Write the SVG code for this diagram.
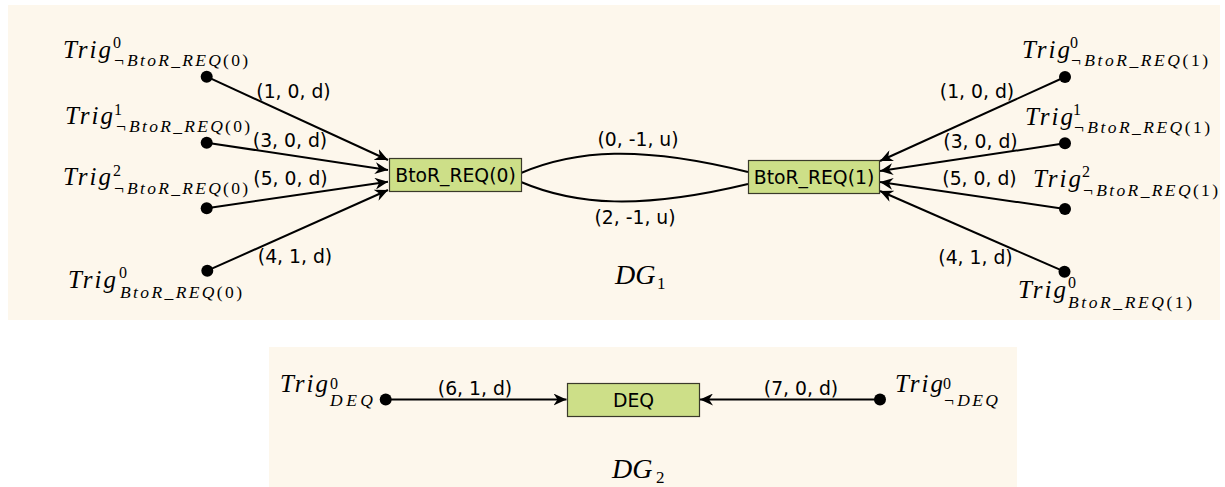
<svg xmlns="http://www.w3.org/2000/svg" width="1225" height="487" viewBox="0 0 1225 487">
<style>
.panel{fill:#fdf7ec}
.box{fill:#cddf88;stroke:#3a3a2a;stroke-width:1.2}
.nl{font-family:"DejaVu Sans",sans-serif;font-size:18.8px;fill:#000;text-anchor:middle}
.el{font-family:"DejaVu Sans",sans-serif;font-size:18.8px;fill:#000;text-anchor:middle}
.e{fill:none;stroke:#000;stroke-width:2}
.dot{fill:#000}
.m{font-family:"Liberation Serif",serif;font-style:italic;fill:#000}
.u{font-style:normal}
.big{font-size:25px}
.sup{font-size:16px}
.sm{font-size:17.5px}
.dg{font-family:"Liberation Serif",serif;font-style:italic;font-size:28px;fill:#000}
.dgs{font-family:"Liberation Serif",serif;font-size:17px;fill:#000}
</style>
<defs>
<marker id="ah" markerUnits="userSpaceOnUse" markerWidth="14" markerHeight="12" viewBox="0 0 14 12" refX="13" refY="6" orient="auto">
<path d="M0,0 L13,6 L0,12 L4,6 z" fill="#000"/>
</marker>
</defs>
<rect class="panel" x="8" y="5" width="1212" height="315"/>
<rect class="panel" x="269" y="347" width="748" height="140"/>

<g id="connectors">
<line class="e" x1="206.7" y1="76.7" x2="388" y2="160" marker-end="url(#ah)"/>
<line class="e" x1="206.7" y1="142.7" x2="388" y2="170" marker-end="url(#ah)"/>
<line class="e" x1="206.7" y1="208.3" x2="388" y2="181.7" marker-end="url(#ah)"/>
<line class="e" x1="207.3" y1="270.7" x2="388" y2="190" marker-end="url(#ah)"/>
<line class="e" x1="1065" y1="77" x2="880" y2="161" marker-end="url(#ah)"/>
<line class="e" x1="1065" y1="143.3" x2="880" y2="171" marker-end="url(#ah)"/>
<line class="e" x1="1065" y1="209" x2="880" y2="182" marker-end="url(#ah)"/>
<line class="e" x1="1064.5" y1="271.7" x2="880" y2="191" marker-end="url(#ah)"/>
<path class="e" d="M521,173 C575,150 640,145 748,172"/>
<path class="e" d="M521,182 C575,205 640,210 748,184"/>
<line class="e" x1="385.7" y1="399.5" x2="566.5" y2="399.5" marker-end="url(#ah)"/>
<line class="e" x1="880" y1="399.5" x2="700" y2="399.5" marker-end="url(#ah)"/>
<text class="el" x="293.5" y="97.5">(1, 0, d)</text>
<text class="el" x="290" y="147">(3, 0, d)</text>
<text class="el" x="290.5" y="185">(5, 0, d)</text>
<text class="el" x="295" y="263">(4, 1, d)</text>
<text class="el" x="977" y="98">(1, 0, d)</text>
<text class="el" x="980.5" y="148">(3, 0, d)</text>
<text class="el" x="979.5" y="185">(5, 0, d)</text>
<text class="el" x="975.5" y="264">(4, 1, d)</text>
<text class="el" x="638" y="146">(0, -1, u)</text>
<text class="el" x="635" y="224">(2, -1, u)</text>
<text class="el" x="475" y="395">(6, 1, d)</text>
<text class="el" x="801" y="395">(7, 0, d)</text>
</g>

<g id="n-btor0">
<rect class="box" x="389.5" y="158.5" width="132" height="33"/>
<text class="nl" x="455.5" y="181.5">BtoR_REQ(0)</text>
</g>
<g id="n-btor1">
<rect class="box" x="748.5" y="160.5" width="131" height="33"/>
<text class="nl" x="814" y="183.5">BtoR_REQ(1)</text>
</g>
<g id="n-deq">
<rect class="box" x="567.5" y="383.5" width="132" height="33"/>
<text class="nl" x="633.5" y="406.5">DEQ</text>
</g>

<g id="t-l1">
<circle class="dot" cx="206.7" cy="76.7" r="6"/>
<text class="m big" x="63" y="58" textLength="48" lengthAdjust="spacing">Trig</text>
<text class="m sup u" x="113" y="48">0</text>
<text class="m sm" x="113" y="66" textLength="135" lengthAdjust="spacing">¬BtoR_REQ<tspan class="u">(0)</tspan></text>
</g>
<g id="t-l2">
<circle class="dot" cx="206.7" cy="142.7" r="6"/>
<text class="m big" x="65" y="124" textLength="48" lengthAdjust="spacing">Trig</text>
<text class="m sup u" x="114" y="115">1</text>
<text class="m sm" x="115" y="132" textLength="135" lengthAdjust="spacing">¬BtoR_REQ<tspan class="u">(0)</tspan></text>
</g>
<g id="t-l3">
<circle class="dot" cx="206.7" cy="208.3" r="6"/>
<text class="m big" x="63" y="185" textLength="48" lengthAdjust="spacing">Trig</text>
<text class="m sup u" x="113" y="175.5">2</text>
<text class="m sm" x="113" y="193.5" textLength="135" lengthAdjust="spacing">¬BtoR_REQ<tspan class="u">(0)</tspan></text>
</g>
<g id="t-l4">
<circle class="dot" cx="207.3" cy="270.7" r="6"/>
<text class="m big" x="68" y="288" textLength="48" lengthAdjust="spacing">Trig</text>
<text class="m sup u" x="119" y="278">0</text>
<text class="m sm" x="120" y="298" textLength="122" lengthAdjust="spacing">BtoR_REQ<tspan class="u">(0)</tspan></text>
</g>
<g id="t-r1">
<circle class="dot" cx="1065" cy="77" r="6"/>
<text class="m big" x="1022" y="58" textLength="48" lengthAdjust="spacing">Trig</text>
<text class="m sup u" x="1070" y="48">0</text>
<text class="m sm" x="1070" y="66" textLength="138" lengthAdjust="spacing">¬BtoR_REQ<tspan class="u">(1)</tspan></text>
</g>
<g id="t-r2">
<circle class="dot" cx="1065" cy="143.3" r="6"/>
<text class="m big" x="1025" y="125" textLength="48" lengthAdjust="spacing">Trig</text>
<text class="m sup u" x="1073" y="115">1</text>
<text class="m sm" x="1073" y="133" textLength="137" lengthAdjust="spacing">¬BtoR_REQ<tspan class="u">(1)</tspan></text>
</g>
<g id="t-r3">
<circle class="dot" cx="1065" cy="209" r="6"/>
<text class="m big" x="1033" y="187" textLength="48" lengthAdjust="spacing">Trig</text>
<text class="m sup u" x="1082" y="177">2</text>
<text class="m sm" x="1082" y="196" textLength="136" lengthAdjust="spacing">¬BtoR_REQ<tspan class="u">(1)</tspan></text>
</g>
<g id="t-r4">
<circle class="dot" cx="1064.5" cy="271.7" r="6"/>
<text class="m big" x="1018" y="298" textLength="48" lengthAdjust="spacing">Trig</text>
<text class="m sup u" x="1068" y="288">0</text>
<text class="m sm" x="1068" y="308" textLength="124" lengthAdjust="spacing">BtoR_REQ<tspan class="u">(1)</tspan></text>
</g>
<g id="t-deq">
<circle class="dot" cx="385.7" cy="399.5" r="6"/>
<text class="m big" x="280" y="392" textLength="48" lengthAdjust="spacing">Trig</text>
<text class="m sup u" x="330" y="389">0</text>
<text class="m sm" x="330" y="406" textLength="43" lengthAdjust="spacing">DEQ</text>
</g>
<g id="t-ndeq">
<circle class="dot" cx="880" cy="399.5" r="6"/>
<text class="m big" x="895" y="392" textLength="48" lengthAdjust="spacing">Trig</text>
<text class="m sup u" x="943" y="389">0</text>
<text class="m sm" x="943" y="406" textLength="55" lengthAdjust="spacing">¬DEQ</text>
</g>

<g id="titles">
<text class="dg" x="615" y="284">DG</text>
<text class="dgs" x="657" y="289">1</text>
<text class="dg" x="612" y="478">DG</text>
<text class="dgs" x="656" y="483">2</text>
</g>
</svg>
